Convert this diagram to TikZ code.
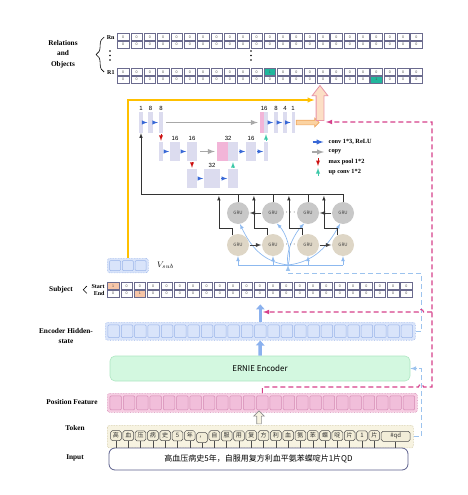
\documentclass[tikz,border=0pt]{standalone}
\usepackage{fontspec}
\setmainfont{Liberation Serif}
\setsansfont{Liberation Sans}
\newfontfamily\cjk{Noto Sans CJK SC}
\usepackage{tikz}
\usetikzlibrary{matrix,positioning,arrows.meta,arrows,shapes.arrows,decorations.pathreplacing,backgrounds}

\definecolor{cellline}{HTML}{6B6B8E}
\definecolor{zerotext}{HTML}{505050}
\definecolor{relgreen}{HTML}{21B69C}
\definecolor{subjone}{HTML}{F7C6A8}
\definecolor{hidfill}{HTML}{D9E4FA}
\definecolor{hidline}{HTML}{9BB5EA}
\definecolor{erniefill}{HTML}{D3F8E0}
\definecolor{ernieline}{HTML}{AEE6C2}
\definecolor{pffill}{HTML}{F6CDE2}
\definecolor{pfcell}{HTML}{F1BEDA}
\definecolor{pfline}{HTML}{D48AB4}
\definecolor{tokfill}{HTML}{F7F3E1}
\definecolor{tokline}{HTML}{C9BF94}
\definecolor{tokcell}{HTML}{F2EDD8}
\definecolor{tokedge}{HTML}{505050}
\definecolor{inpline}{HTML}{5B5F8C}
\definecolor{grugray}{HTML}{C8C8C8}
\definecolor{grubeige}{HTML}{DED6C6}
\definecolor{ulav}{HTML}{DCDCEF}
\definecolor{upink}{HTML}{F2B5D8}
\definecolor{convblue}{HTML}{3868D6}
\definecolor{copygray}{HTML}{A8A8A8}
\definecolor{poolred}{HTML}{CC1010}
\definecolor{upteal}{HTML}{3CC8A8}
\definecolor{goldline}{HTML}{FFC000}
\definecolor{outfill}{HTML}{FBD3A2}
\definecolor{outedge}{HTML}{EFA55E}
\definecolor{bigfill}{HTML}{FCDFC5}
\definecolor{bigedge}{HTML}{E893A6}
\definecolor{magcol}{HTML}{D6408B}
\definecolor{skydash}{HTML}{9CC3EE}
\definecolor{gruin}{HTML}{8DB9EF}
\definecolor{thickblue}{HTML}{8BB1EE}

\tikzset{
relmat/.style={
  matrix of nodes,
  nodes in empty cells,
  anchor=north west,
  inner sep=0pt,
  column sep=1.33pt,
  row sep=-\pgflinewidth,
  nodes={draw=cellline,fill=white,line width=0.5pt,minimum width=11.5pt,minimum height=7.2pt,inner sep=0pt,text=zerotext,font=\sffamily\fontsize{3.6}{3.6}\selectfont}
  },
hit/.style={fill=#1},
rowmat/.style={
  matrix of nodes,
  nodes in empty cells,
  anchor=north west,
  inner sep=2.4pt,
  column sep=1.33pt,
  rounded corners=2.5pt,
  densely dotted,
  line width=0.6pt
  },
rowmats/.style 2 args={
  rowmat,
  draw=#2,fill=#1,
  nodes={solid,rounded corners=1pt,draw=#2,fill=#1,line width=0.5pt,minimum width=11.5pt,inner sep=0pt}
  },
lab/.style={font=\bfseries\fontsize{7.3}{10.5}\selectfont,align=center},
rowlab/.style={font=\bfseries\fontsize{6}{6}\selectfont,inner sep=0.5pt},
brc/.style={decorate,decoration={brace,amplitude=8pt,raise=2pt},line width=0.6pt},
ubox/.style={fill=ulav,inner sep=0pt,minimum width=#1,minimum height=19pt},
tall/.style={minimum height=21pt},
unum/.style={font=\sffamily\fontsize{6}{6}\selectfont,inner sep=1.5pt},
conv/.style={->,draw=convblue,line width=0.9pt,shorten >=0.6pt,shorten <=0.6pt},
copyarr/.style={->,draw=copygray,line width=1.4pt,shorten >=2pt,shorten <=3pt},
poolarr/.style={->,draw=poolred,line width=0.9pt,shorten >=1pt,shorten <=1pt},
uparr/.style={->,draw=upteal,line width=0.9pt,shorten >=1pt,shorten <=1pt},
legtext/.style={anchor=west,font=\bfseries\fontsize{6.3}{6.3}\selectfont,inner sep=0.5pt},
grunode/.style={circle,minimum size=22pt,inner sep=0pt,text=black!75,font=\cjk\fontsize{4.5}{4.5}\selectfont},
gruarr/.style={->,draw=black!75,line width=0.9pt,shorten >=0.5pt,shorten <=0.5pt},
dotnode/.style={font=\fontsize{8}{8}\selectfont,inner sep=0pt},
busline/.style={draw=black!80,line width=0.6pt},
gruline/.style={draw=gruin,line width=0.7pt},
featline/.style={draw=goldline,line width=1.4pt},
encdash/.style={draw=skydash,line width=1pt,dash pattern=on 5pt off 3pt},
magline/.style={draw=magcol,line width=1.1pt,dash pattern=on 5pt off 3pt},
thickarr/.style={-{Triangle[length=5pt,width=8.5pt]},draw=thickblue,line width=3.5pt},
outarrow/.style={single arrow,draw=outedge,fill=outfill,line width=0.7pt,minimum height=23pt,inner sep=2pt,single arrow head extend=2pt},
bigarrow/.style={single arrow,rotate=90,draw=bigedge,fill=bigfill,line width=0.8pt,minimum height=35pt,inner sep=3.5pt,single arrow head extend=4pt,single arrow tip angle=75},
tokarrow/.style={single arrow,rotate=90,draw=black!45,fill=tokfill,line width=0.6pt,minimum height=13pt,inner sep=2pt,single arrow head extend=3pt},
erniebox/.style={draw=ernieline,fill=erniefill,line width=0.6pt,rounded corners=5pt,minimum width=300pt,minimum height=25pt,font=\cjk\fontsize{8}{8}\selectfont},
inbox/.style={draw=inpline,fill=white,line width=0.8pt,rounded corners=6pt,minimum width=299pt,minimum height=22pt,font=\cjk\fontsize{8}{8}\selectfont},
tokstem/.style={draw=black!70,line width=0.5pt}
}

\begin{document}
\begin{tikzpicture}[>=latex,x=1pt,y=-1pt]
\useasboundingbox (0,0) rectangle (468,495);

\matrix[relmat] at (117,33) (rn)
{
0 & 0 & 0 & 0 & 0 & 0 & 0 & 0 & 0 & 0 & 0 & 0 & 0 & 0 & 0 & 0 & 0 & 0 & 0 & 0 & 0 & 0 & 0 \\
0 & 0 & 0 & 0 & 0 & 0 & 0 & 0 & 0 & 0 & 0 & 0 & 0 & 0 & 0 & 0 & 0 & 0 & 0 & 0 & 0 & 0 & 0 \\
};

\matrix[relmat] at (117,68) (r1)
{
0 & 0 & 0 & 0 & 0 & 0 & 0 & 0 & 0 & 0 & 0 & |[hit=relgreen]| 1 & 0 & 0 & 0 & 0 & 0 & 0 & 0 & 0 & 0 & 0 & 0 \\
0 & 0 & 0 & 0 & 0 & 0 & 0 & 0 & 0 & 0 & 0 & 0 & 0 & 0 & 0 & 0 & 0 & 0 & 0 & |[hit=relgreen]| 1 & 0 & 0 & 0 \\
};

\matrix[relmat] at (107,282) (subj)
{
|[hit=subjone]| 1 & 0 & 0 & 0 & 0 & 0 & 0 & 0 & 0 & 0 & 0 & 0 & 0 & 0 & 0 & 0 & 0 & 0 & 0 & 0 & 0 & 0 & 0 \\
0 & 0 & |[hit=subjone]| 1 & 0 & 0 & 0 & 0 & 0 & 0 & 0 & 0 & 0 & 0 & 0 & 0 & 0 & 0 & 0 & 0 & 0 & 0 & 0 & 0 \\
};

\matrix[rowmats={hidfill}{hidline},inner sep=2pt,column sep=1.3pt,nodes={minimum width=11pt,minimum height=10pt}] at (107,258) (vsub)
{
 & & \\
};

\matrix[rowmats={hidfill}{hidline},nodes={minimum height=12.6pt}] at (105,322) (hid)
{
 & & & & & & & & & & & & & & & & & & & & & & \\
};

\matrix[rowmats={pffill}{pfline},nodes={fill=pfcell,minimum height=13.8pt}] at (107,393) (pf)
{
 & & & & & & & & & & & & & & & & & & & & & & \\
};

\matrix[rowmat,draw=tokline,fill=tokfill,inner xsep=3pt,inner ysep=5pt,column sep=1pt,
  nodes={solid,rounded corners=1.8pt,draw=tokedge,fill=tokcell,line width=0.5pt,minimum width=10.8pt,minimum height=10pt,inner sep=0pt,text=black!80,font=\cjk\fontsize{6}{6}\selectfont}]
at (107,425) (tok)
{
高 & 血 & 压 & 病 & 史 & 5 & 年 & ， & 自 & 服 & 用 & 复 & 方 & 利 & 血 & 氨 & 苯 & 蝶 & 啶 & 片 & 1 & 片 & |[minimum width=29pt]| \#qd \\
};

\node[inbox] (inp) at (258.5,459) {高血压病史5年，自服用复方利血平氨苯蝶啶片1片QD};
\node[erniebox] (ernie) at (260,368.5) {ERNIE Encoder};

\foreach \j in {1,...,23}
  \draw[tokstem] (tok-1-\j.south) -- (tok-1-\j.south |- inp.north);

% left labels
\node[lab] (rel) at (63,54) {Relations\\and\\Objects};
\node[rowlab,left=2pt of rn-1-1] (rnlab) {Rn};
\node[rowlab,left=2pt of r1-1-1] (r1lab) {R1};
\draw[brc] (rnlab.west |- r1lab.west) -- (rnlab.west);
\foreach \y in {51,55.5,60}{
  \fill (110,\y) circle (0.9pt);
  \fill (251,\y) circle (0.9pt);
}

\node[rowlab,left=2pt of subj-1-1] (stlab) {Start};
\node[rowlab,left=2pt of subj-2-1] (enlab) {End};
\draw[brc,decoration={brace,amplitude=3.5pt,raise=4pt}] (stlab.west |- enlab.west) -- (stlab.west);
\node[lab] (sublab) at (61,290) {Subject};
\node[lab] (hidlab) at (66,336) {Encoder Hidden-\\state};
\node[lab] (pflab) at (72,402) {Position Feature};
\node[lab] (toklab) at (75,428) {Token};
\node[lab] (inplab) at (75,458) {Input};
\node[font=\fontsize{8}{8}\selectfont,right=5pt of vsub] (vsublab) {$V_{sub}$};

% unet
\node[ubox=3.5pt,tall] (u1a) at (141,122.5) {};
\node[ubox=4.5pt,tall] (u1b) at (150.5,122.5) {};
\node[ubox=4.5pt,tall] (u1c) at (161,122.5) {};
\node[ubox=4pt,tall,fill=upink] (u1dp) at (262,122.5) {};
\node[ubox=4pt,tall] (u1dl) at (266,122.5) {};
\node[ubox=4pt,tall] (u1e) at (276,122.5) {};
\node[ubox=4pt,tall] (u1f) at (285,122.5) {};
\node[ubox=3pt,tall] (u1g) at (293,122.5) {};

\node[ubox=4pt] (u2a) at (161,151.5) {};
\node[ubox=10pt] (u2b) at (175,151.5) {};
\node[ubox=10pt] (u2c) at (192,151.5) {};
\node[ubox=11pt,fill=upink] (u2dp) at (222.5,151.5) {};
\node[ubox=10pt] (u2dl) at (233,151.5) {};
\node[ubox=10pt] (u2f) at (251,151.5) {};
\node[ubox=4pt] (u2g) at (266,151.5) {};

\node[ubox=10pt] (u3a) at (192,178.5) {};
\node[ubox=16pt] (u3b) at (212,178.5) {};
\node[ubox=10pt] (u3c) at (233,178.5) {};

\node[unum,above=0pt of u1a] (n1a) {1};
\node[unum,above=0pt of u1b] (n1b) {8};
\node[unum,above=0pt of u1c] (n1c) {8};
\node[unum,above=0pt of u1dp.north east] (n1d) {16};
\node[unum,above=0pt of u1e] (n1e) {8};
\node[unum,above=0pt of u1f] (n1f) {4};
\node[unum,above=0pt of u1g] (n1g) {1};
\node[unum,above=0pt of u2b] (n2b) {16};
\node[unum,above=0pt of u2c] (n2c) {16};
\node[unum,above=0pt of u2dp.north east] (n2d) {32};
\node[unum,above=0pt of u2f] (n2f) {16};
\node[unum,above=0pt of u3b] (n3b) {32};

\draw[conv] (u1a) -- (u1b);
\draw[conv] (u1b) -- (u1c);
\draw[conv] (u2a) -- (u2b);
\draw[conv] (u2b) -- (u2c);
\draw[conv] (u3a) -- (u3b);
\draw[conv] (u3b) -- (u3c);
\draw[conv] (u2dl) -- (u2f);
\draw[conv] (u2f) -- (u2g);
\draw[conv] (u1dl) -- (u1e);
\draw[conv] (u1e) -- (u1f);
\draw[conv] (u1f) -- (u1g);
\draw[copyarr] (u1c) -- (u1dp);
\draw[copyarr] (u2c) -- (u2dp);
\draw[poolarr] (u1c) -- (u2a);
\draw[poolarr] (u2c) -- (u3a);
\draw[uparr] (u3c) -- (u2dl);
\draw[uparr] (u2g) -- (u1dl);

\node[outarrow] (oarr) at (306.5,122.5) {};
\node[bigarrow] (bigup) at (320,105.5) {};

% legend
\node[legtext] (lg1) at (328,142) {conv 1*3, ReLU};
\node[legtext] (lg2) at (328,152) {copy};
\node[legtext] (lg3) at (328,162) {max pool 1*2};
\node[legtext] (lg4) at (328,172) {up conv 1*2};
\draw[conv,line width=1.3pt] ([xshift=-16pt]lg1.west) -- ([xshift=-4pt]lg1.west);
\draw[copyarr,shorten <=0pt,shorten >=0pt] ([xshift=-16pt]lg2.west) -- ([xshift=-4pt]lg2.west);
\draw[poolarr] ([xshift=-10pt,yshift=5pt]lg3.west) -- ([xshift=-10pt,yshift=-5pt]lg3.west);
\draw[uparr] ([xshift=-10pt,yshift=-5pt]lg4.west) -- ([xshift=-10pt,yshift=5pt]lg4.west);

% gru
\foreach \i/\x in {1/238,2/273,3/308,4/343}{
  \node[grunode,fill=grugray] (g\i) at (\x,213) {GRU};
  \node[grunode,fill=grubeige] (b\i) at (\x,245) {GRU};
}
\draw[gruarr] (g2) -- (g1);
\draw[gruarr] (g4) -- (g3);
\draw[gruarr] (b1) -- (b2);
\draw[gruarr] (b3) -- (b4);
\node[dotnode] (gd) at (290.5,213) {$\cdots$};
\node[dotnode] (bd) at (290.5,245) {$\cdots$};

\coordinate (busL) at (141,194);
\draw[busline,->] (g4.north) |- (busL) -- (u1a.south);
\foreach \i in {1,2,3}
  \draw[busline] (g\i.north) -- (g\i.north |- busL);
\foreach \i in {1,...,4}
  \draw[busline,->] (b\i.120) |- ++(-13.5,-7) -- ++(0,-32.5);

\coordinate (jn) at (288,265);
\draw[gruline] (b1.south |- jn) -- (b4.south |- jn);
\foreach \i in {1,...,4}
  \draw[gruline,->] (b\i.south |- jn) -- (b\i.south);
\begin{pgfonlayer}{background}
\draw[gruline,->] (jn) .. controls (262,262) and (250,245) .. (g1.-80);
\draw[gruline,->] (jn) .. controls (293,250) and (285,232) .. (g2.-70);
\draw[gruline,->] (jn) .. controls (285,250) and (296,232) .. (g3.-110);
\draw[gruline,->] (jn) .. controls (315,262) and (328,245) .. (g4.-105);
\end{pgfonlayer}

% feature flow
\coordinate (ytip) at (314.5,100);
\draw[featline,->] (vsub.north) |- (ytip);

\draw[thickarr] (ernie.north) -- (hid.south);
\draw[thickarr,shorten >=7pt] (hid.north) -- (hid.north |- subj.south);
\node[tokarrow] (tarr) at (259,418.5) {};

\coordinate (bq) at (421,273);
\coordinate (de) at (421,368.5);
\draw[encdash,->] (hid.east) -| (bq) -| (jn);
\draw[encdash,->] (tok.east) -| (de) -- (ernie.east);

\coordinate (mtip) at (326,122);
\coordinate (mbr) at (432,312);
\coordinate (mend) at (263,312);
\draw[magline,->] (pf.north) -- ++(0,-6) -- (418.5,387) arc[start angle=180,end angle=0,radius=2.5pt] -- (432,387) -- (mtip -| mbr) -- (mtip);
\draw[magline,->] (mbr) -- (423.5,312) arc[start angle=0,end angle=180,radius=2.5pt] -- (mend);

\end{tikzpicture}
\end{document}
